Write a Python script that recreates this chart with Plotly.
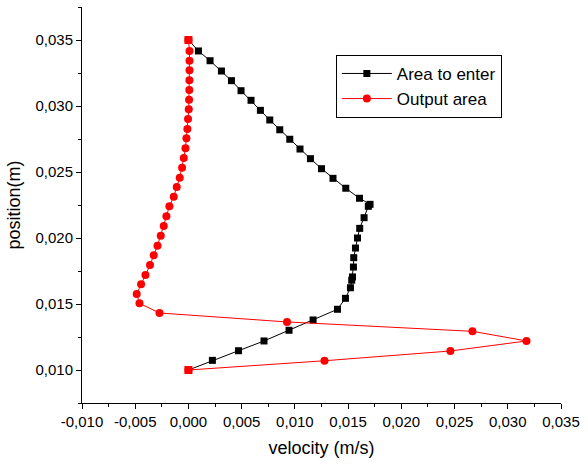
import plotly.graph_objects as go

# Area to enter (black squares)
enter_v = [0.0, 0.00094, 0.00203, 0.00310, 0.00404, 0.00494, 0.00588, 0.00676, 0.00764,
           0.00858, 0.00952, 0.01048, 0.01146, 0.01250, 0.01358, 0.01478, 0.01607,
           0.01706, 0.01690, 0.01650, 0.01609, 0.01588, 0.01569, 0.01553, 0.01550,
           0.01541, 0.01534, 0.01522, 0.01475, 0.01400, 0.01171, 0.00945, 0.00710,
           0.00470, 0.00225, 0.0]
enter_p = [0.03500, 0.03417, 0.03343, 0.03265, 0.03192, 0.03116, 0.03043, 0.02967, 0.02894,
           0.02820, 0.02748, 0.02674, 0.02601, 0.02525, 0.02452, 0.02377, 0.02301,
           0.02255, 0.02240, 0.02154, 0.02073, 0.02000, 0.01924, 0.01851, 0.01780,
           0.01705, 0.01680, 0.01623, 0.01543, 0.01460, 0.01379, 0.01301, 0.01220,
           0.01146, 0.01073, 0.01000]

# Output area (red circles)
out_v = [0.0, 0.00010, 0.00010, 0.00010, 0.00009, 0.00008, 0.00006, 0.00003, -0.00004,
         -0.00010, -0.00019, -0.00028, -0.00044, -0.00060, -0.00082, -0.00110, -0.00138,
         -0.00179, -0.00207, -0.00232, -0.00260, -0.00291, -0.00326, -0.00361, -0.00404,
         -0.00445, -0.00486, -0.00460, -0.00272, 0.00926, 0.02668, 0.03176, 0.02461,
         0.01278, 0.0]
out_p = [0.03500, 0.03417, 0.03343, 0.03270, 0.03195, 0.03121, 0.03048, 0.02975, 0.02902,
         0.02826, 0.02755, 0.02680, 0.02606, 0.02533, 0.02457, 0.02386, 0.02313,
         0.02240, 0.02164, 0.02091, 0.02017, 0.01942, 0.01869, 0.01795, 0.01720,
         0.01649, 0.01576, 0.01505, 0.01432, 0.01364, 0.01293, 0.01220, 0.01144,
         0.01070, 0.01000]

x_ticks = [-0.010, -0.005, 0.000, 0.005, 0.010, 0.015, 0.020, 0.025, 0.030, 0.035]
x_ticktext = ["-0,010", "-0,005", "0,000", "0,005", "0,010", "0,015", "0,020", "0,025", "0,030", "0,035"]
y_ticks = [0.010, 0.015, 0.020, 0.025, 0.030, 0.035]
y_ticktext = ["0,010", "0,015", "0,020", "0,025", "0,030", "0,035"]

FONT = "Liberation Sans, Arial, sans-serif"

fig = go.Figure()
fig.add_trace(go.Scatter(
    x=enter_v, y=enter_p, mode="lines+markers", name="Area to enter",
    line=dict(color="black", width=1),
    marker=dict(symbol="square", size=7, color="black"),
))
fig.add_trace(go.Scatter(
    x=out_v, y=out_p, mode="lines+markers", name="Output area",
    line=dict(color="red", width=1),
    marker=dict(symbol="circle", size=8, color="red"),
))
# endpoints of the output series are drawn as squares in the original
fig.add_trace(go.Scatter(
    x=[out_v[0], out_v[-1]], y=[out_p[0], out_p[-1]], mode="markers",
    showlegend=False, hoverinfo="skip",
    marker=dict(symbol="square", size=8, color="red"),
))

fig.update_layout(
    width=588, height=464,
    margin=dict(l=82, r=27, t=7, b=61),
    paper_bgcolor="white", plot_bgcolor="white",
    font=dict(family=FONT, size=15, color="black"),
    legend=dict(
        x=0.53, y=0.879, xanchor="left", yanchor="top",
        bordercolor="black", borderwidth=1, bgcolor="white",
        font=dict(family=FONT, size=17, color="black"),
        tracegroupgap=0, itemwidth=50,
    ),
    showlegend=True,
)
fig.update_xaxes(
    range=[-0.010, 0.035], tickvals=x_ticks, ticktext=x_ticktext, automargin=False,
    showgrid=False, zeroline=False, showline=True, linecolor="black", linewidth=1,
    ticks="outside", ticklen=5, tickcolor="black",
    minor=dict(dtick=0.0025, tick0=0, ticks="outside", ticklen=3, tickcolor="black", showgrid=False),
    title=dict(text="velocity (m/s)", font=dict(size=18, family=FONT), standoff=12),
    tickfont=dict(size=15, family=FONT),
)
fig.update_yaxes(
    range=[0.0075, 0.0375], tickvals=y_ticks, ticktext=y_ticktext, automargin=False,
    showgrid=False, zeroline=False, showline=True, linecolor="black", linewidth=1,
    ticks="outside", ticklen=5, tickcolor="black",
    minor=dict(dtick=0.0025, tick0=0, ticks="outside", ticklen=3, tickcolor="black", showgrid=False),
    title=dict(text="position(m)", font=dict(size=18, family=FONT), standoff=10),
    tickfont=dict(size=15, family=FONT),
)

fig.write_html("out.html", config={"displayModeBar": False},
               post_script="document.body.style.margin='0';")
